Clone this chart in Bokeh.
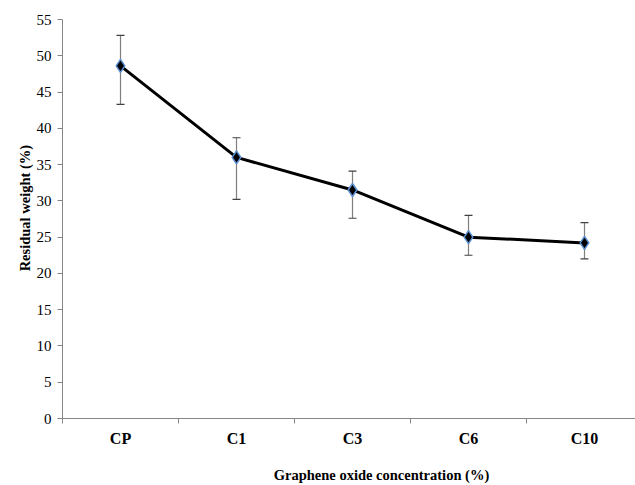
from bokeh.plotting import figure
from bokeh.models import (Range1d, FixedTicker, ColumnDataSource, Whisker, TeeHead, LinearAxis)
from bokeh.embed import file_html
from bokeh.resources import INLINE

categories = ["CP", "C1", "C3", "C6", "C10"]
residual = [48.6, 36.0, 31.5, 25.0, 24.2]
err_upper = [52.8, 38.7, 34.1, 28.0, 27.0]
err_lower = [43.3, 30.2, 27.6, 22.5, 22.0]
y_ticks = [0, 5, 10, 15, 20, 25, 30, 35, 40, 45, 50, 55]
x_title = "Graphene oxide concentration (%)"
y_title = "Residual weight (%)"

xpos = [i + 0.5 for i in range(len(categories))]
src = ColumnDataSource(dict(x=xpos, y=residual, up=err_upper, lo=err_lower))

PX_X = 116.0   # pixels per x unit

p = figure(width=635, height=485, output_backend="svg", toolbar_location=None,
           x_range=Range1d(0, 573 / PX_X), y_range=Range1d(0, 55),
           min_border_left=62, min_border_right=0, min_border_top=19, min_border_bottom=67)
p.outline_line_color = None
p.xgrid.grid_line_color = None
p.ygrid.grid_line_color = None
p.background_fill_color = "white"
p.border_fill_color = "white"

axis_color = "#868686"
# x axis
xa = p.xaxis[0]
xa.ticker = FixedTicker(ticks=xpos, minor_ticks=list(range(0, 6)))
xa.major_label_overrides = {x: c for x, c in zip(xpos, categories)}
xa.major_tick_out = 0
xa.major_tick_in = 0
xa.minor_tick_out = 5
xa.minor_tick_in = 0
xa.minor_tick_line_color = axis_color
xa.axis_line_color = axis_color
xa.major_label_text_font = "Liberation Serif"
xa.major_label_text_font_style = "bold"
xa.major_label_text_font_size = "16px"
xa.major_label_text_color = "black"
xa.major_label_standoff = 6

# y axis
ya = p.yaxis[0]
ya.ticker = FixedTicker(ticks=y_ticks)
ya.minor_tick_line_color = None
ya.major_tick_out = 5
ya.major_tick_in = 0
ya.major_tick_line_color = axis_color
ya.axis_line_color = axis_color
ya.major_label_text_font = "Liberation Serif"
ya.major_label_text_font_size = "15px"
ya.major_label_text_color = "black"
ya.major_label_standoff = 6

# axis titles, placed as single-label axes (off-centre like the reference)
xt_pos = 2.75
xt = LinearAxis(ticker=FixedTicker(ticks=[xt_pos], minor_ticks=[]),
                major_label_overrides={xt_pos: x_title},
                axis_line_color=None, major_tick_line_color=None, minor_tick_line_color=None,
                major_tick_out=0, major_tick_in=0, minor_tick_out=0, minor_tick_in=0,
                major_label_standoff=17,
                major_label_text_line_height=0.5,
                major_label_text_font="Liberation Serif", major_label_text_font_style="bold",
                major_label_text_font_size="14.5px", major_label_text_color="black")
p.add_layout(xt, "below")

yt_pos = 29
yt = LinearAxis(ticker=FixedTicker(ticks=[yt_pos], minor_ticks=[]),
                major_label_overrides={yt_pos: y_title},
                major_label_orientation="vertical",
                axis_line_color=None, major_tick_line_color=None, minor_tick_line_color=None,
                major_tick_out=0, major_tick_in=0, minor_tick_out=0, minor_tick_in=0,
                major_label_standoff=0,
                major_label_text_font="Liberation Serif", major_label_text_font_style="bold",
                major_label_text_font_size="14.5px", major_label_text_color="black")
p.add_layout(yt, "left")

wh = Whisker(source=src, base="x", upper="up", lower="lo",
             line_color="#7f7f7f", line_width=1.2,
             upper_head=TeeHead(size=8, line_color="#404040", line_width=1.2),
             lower_head=TeeHead(size=8, line_color="#404040", line_width=1.2))
p.add_layout(wh)

p.line("x", "y", source=src, line_color="black", line_width=3)
p.scatter("x", "y", source=src, marker="diamond", size=13,
          fill_color="black", line_color="#5b8fd0", line_width=1.5)

open("out.html", "w").write(file_html(p, INLINE))
